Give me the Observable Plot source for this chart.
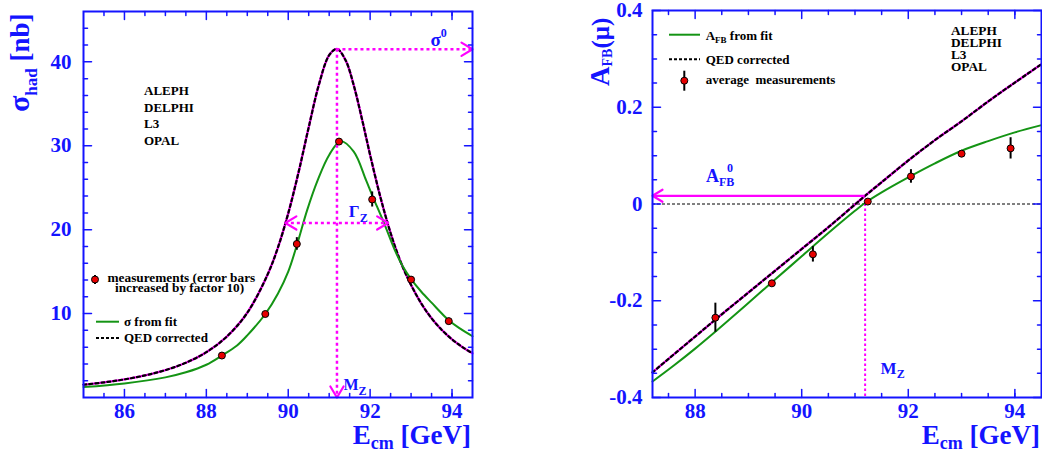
<!DOCTYPE html>
<html><head><meta charset="utf-8">
<script src="https://cdn.jsdelivr.net/npm/d3@7"></script>
<script src="https://cdn.jsdelivr.net/npm/@observablehq/plot@0.6"></script>
<style>
html,body{margin:0;padding:0;background:#fff;}
#wrap{position:relative;width:1042px;height:452px;overflow:hidden;background:#fff;}
#left{position:absolute;left:0;top:0;}
#right{position:absolute;left:520px;top:0;}
svg{overflow:visible}
</style></head><body><div id="wrap"><div id="left"></div><div id="right"></div></div>
<script>
// ---------- data ----------
const scanEnergy = [88.38, 89.44, 90.21, 91.24, 92.05, 93.00, 93.92];
const sigmaMeas = [5.0, 9.95, 18.3, 30.5, 23.6, 14.05, 9.1];
const sigmaErr10 = [0.3, 0.3, 0.75, 0.3, 0.9, 0.3, 0.35];
const afbMeas = [-0.235, -0.164, -0.104, 0.005, 0.057, 0.104, 0.115];
const afbErr = [0.030, 0.006, 0.016, 0.004, 0.014, 0.006, 0.022];

const sigmaFitE = [85, 86, 87, 87.5, 88, 88.38, 88.75, 89, 89.44, 89.75, 90, 90.22, 90.46, 90.72, 91, 91.28, 91.6, 91.9, 92.05, 92.33, 92.6, 92.8, 93, 93.25, 93.5, 93.92, 94.2, 94.5];
const sigmaFit = [1.25, 1.68, 2.4, 3.0, 3.9, 5.0, 6.2, 7.4, 9.95, 12.4, 15.0, 18.3, 22.3, 25.9, 28.9, 30.55, 29.3, 25.9, 24.1, 20.9, 17.6, 15.6, 14.1, 12.6, 11.3, 9.2, 8.2, 7.3];
const sigmaQedE = [85, 85.5, 86, 86.5, 87, 87.5, 88, 88.5, 89, 89.5, 89.75, 90, 90.25, 90.5, 90.75, 91, 91.19, 91.4, 91.6, 91.8, 92, 92.25, 92.5, 92.75, 93, 93.25, 93.5, 93.75, 94, 94.25, 94.5];
const sigmaQed = [1.52, 1.80, 2.16, 2.63, 3.26, 4.14, 5.40, 7.26, 10.1, 14.7, 17.9, 21.95, 26.8, 32.2, 37.3, 40.8, 41.54, 40.2, 37.2, 33.2, 28.9, 23.9, 19.6, 16.1, 13.4, 11.2, 9.44, 8.05, 6.93, 6.02, 5.27];

const afbFitE = [87.2, 87.6, 88, 88.4, 88.8, 89.2, 89.44, 90, 90.5, 91, 91.2, 91.5, 92, 92.5, 93, 93.5, 94, 94.5];
const afbFit = [-0.367, -0.334, -0.299, -0.262, -0.224, -0.185, -0.162, -0.108, -0.060, -0.014, 0.003, 0.024, 0.055, 0.084, 0.110, 0.130, 0.148, 0.163];
const afbQedE = [87.2, 88, 88.5, 89, 89.5, 90, 90.5, 91, 91.19, 91.5, 92, 92.5, 93, 93.5, 94, 94.5];
const afbQed = [-0.348, -0.274, -0.228, -0.183, -0.138, -0.093, -0.048, -0.001, 0.017, 0.045, 0.090, 0.132, 0.171, 0.212, 0.251, 0.289];

const MZ = 91.19, sigma0 = 41.5, gammaLo = 89.93, gammaHi = 92.44, gammaLevel = 20.8, AFB0 = 0.017;

const sigmaTicks = [10, 20, 30, 40];
const sigmaMinor = [2, 4, 6, 8, 12, 14, 16, 18, 22, 24, 26, 28, 32, 34, 36, 38, 42, 44];
const energyTicksL = [86, 88, 90, 92, 94];
const energyMinorL = [85.5, 86.5, 87, 87.5, 88.5, 89, 89.5, 90.5, 91, 91.5, 92.5, 93, 93.5, 94];
const afbTicks = [-0.4, -0.2, 0, 0.2, 0.4];
const afbMinor = [-0.35, -0.3, -0.25, -0.15, -0.1, -0.05, 0.05, 0.1, 0.15, 0.25, 0.3, 0.35];
const energyTicksR = [88, 90, 92, 94];
const energyMinorR = [87.5, 88.5, 89, 89.5, 90.5, 91, 91.5, 92.5, 93, 93.5, 94];
const experiments = ["ALEPH", "DELPHI", "L3", "OPAL"];

// ---------- styles ----------
const SERIF = "'Liberation Serif', 'Times New Roman', serif";
const BLUE = "#1414ff", MAGENTA = "#ff00ff", GREEN = "#149414", RED = "#e60000";

const zip = (xs, ys) => xs.map((E, i) => ({E, v: ys[i]}));
const measL = scanEnergy.map((E, i) => ({E, v: sigmaMeas[i], e: sigmaErr10[i]}));
const measR = scanEnergy.map((E, i) => ({E, v: afbMeas[i], e: afbErr[i]}));

const tickShape = {draw(ctx, l) { ctx.moveTo(0, 0); ctx.lineTo(0, -l); }};
const chevron = {draw(ctx, l) { const w = l * 0.6; ctx.moveTo(-w, l); ctx.lineTo(0, 0); ctx.lineTo(w, l); }};

function frameTicks(values, dim, len) {
  const common = {length: len, anchor: "start", shape: tickShape, stroke: BLUE, strokeWidth: 1.5};
  if (dim === "x") return [
    Plot.vector(values, {x: d => d, frameAnchor: "bottom", rotate: 0, ...common}),
    Plot.vector(values, {x: d => d, frameAnchor: "top", rotate: 180, ...common})
  ];
  return [
    Plot.vector(values, {y: d => d, frameAnchor: "left", rotate: 90, ...common}),
    Plot.vector(values, {y: d => d, frameAnchor: "right", rotate: -90, ...common})
  ];
}
const axisFont = {fontSize: 21, fontWeight: "bold", fontFamily: SERIF, fill: BLUE, label: null, tickSize: 0};

// ---------- left panel ----------
const headsL = [{x: MZ, y: 0, r: 180}, {x: 94.5, y: sigma0, r: 90}, {x: gammaLo, y: gammaLevel, r: -90}, {x: gammaHi, y: gammaLevel, r: 90}];
const leftPlot = Plot.plot({
  width: 520, height: 452, marginLeft: 83, marginRight: 48, marginTop: 11, marginBottom: 55,
  x: {domain: [85, 94.5]}, y: {domain: [0, 46]},
  style: {fontFamily: SERIF, color: BLUE, background: "white", overflow: "visible"},
  marks: [
    Plot.line(zip(sigmaQedE, sigmaQed), {x: "E", y: "v", curve: "catmull-rom", stroke: MAGENTA, strokeWidth: 2.4}),
    Plot.line(zip(sigmaQedE, sigmaQed), {x: "E", y: "v", curve: "catmull-rom", stroke: "black", strokeWidth: 2.2, strokeDasharray: "3,3"}),
    Plot.line(zip(sigmaFitE, sigmaFit), {x: "E", y: "v", curve: "catmull-rom", stroke: GREEN, strokeWidth: 2}),
    Plot.ruleX([MZ], {y1: sigma0, y2: 0, stroke: MAGENTA, strokeWidth: 2.5, strokeDasharray: "3,3"}),
    Plot.ruleY([sigma0], {x1: MZ, x2: 94.5, stroke: MAGENTA, strokeWidth: 2.5, strokeDasharray: "3,3"}),
    Plot.ruleY([gammaLevel], {x1: gammaLo, x2: gammaHi, stroke: MAGENTA, strokeWidth: 2.5, strokeDasharray: "3,3"}),
    Plot.vector(headsL, {x: "x", y: "y", rotate: "r", length: 11, anchor: "start", shape: chevron, stroke: MAGENTA, strokeWidth: 2.2}),
    Plot.ruleX(measL, {x: "E", y1: d => d.v - d.e, y2: d => d.v + d.e, stroke: "black", strokeWidth: 2}),
    Plot.dot(measL, {x: "E", y: "v", r: 3.5, fill: RED, stroke: "black", strokeWidth: 1}),
    ...frameTicks(sigmaTicks, "y", 8), ...frameTicks(sigmaMinor, "y", 4),
    ...frameTicks(energyTicksL, "x", 8), ...frameTicks(energyMinorL, "x", 4),
    Plot.axisX({ticks: energyTicksL, tickPadding: 6, tickFormat: d => String(d), ...axisFont}),
    Plot.axisY({ticks: sigmaTicks, tickPadding: 12, tickFormat: d => String(d), ...axisFont}),
    Plot.frame({stroke: BLUE, strokeWidth: 2})
  ]
});
document.getElementById("left").append(leftPlot);

// ---------- right panel ----------
const headsR = [{x: 87.2, y: AFB0, r: -90}];
const rightPlot = Plot.plot({
  width: 522, height: 452, marginLeft: 132, marginRight: 1, marginTop: 10, marginBottom: 55,
  x: {domain: [87.2, 94.5]}, y: {domain: [-0.4, 0.4]},
  style: {fontFamily: SERIF, color: BLUE, background: "white", overflow: "visible"},
  marks: [
    Plot.ruleY([0], {stroke: "black", strokeWidth: 1, strokeDasharray: "3,2"}),
    Plot.ruleX([MZ], {y1: 0, y2: -0.4, stroke: MAGENTA, strokeWidth: 2, strokeDasharray: "2.5,2.5"}),
    Plot.line(zip(afbQedE, afbQed), {x: "E", y: "v", curve: "catmull-rom", stroke: MAGENTA, strokeWidth: 2.4}),
    Plot.line(zip(afbQedE, afbQed), {x: "E", y: "v", curve: "catmull-rom", stroke: "black", strokeWidth: 2.2, strokeDasharray: "3,3"}),
    Plot.line(zip(afbFitE, afbFit), {x: "E", y: "v", curve: "catmull-rom", stroke: GREEN, strokeWidth: 2}),
    Plot.ruleY([AFB0], {x1: MZ, x2: 87.2, stroke: MAGENTA, strokeWidth: 2.2}),
    Plot.vector(headsR, {x: "x", y: "y", rotate: "r", length: 10, anchor: "start", shape: chevron, stroke: MAGENTA, strokeWidth: 2.2}),
    Plot.ruleX(measR, {x: "E", y1: d => d.v - d.e, y2: d => d.v + d.e, stroke: "black", strokeWidth: 2}),
    Plot.dot(measR, {x: "E", y: "v", r: 3.5, fill: RED, stroke: "black", strokeWidth: 1}),
    ...frameTicks(afbTicks, "y", 8), ...frameTicks(afbMinor, "y", 4),
    ...frameTicks(energyTicksR, "x", 8), ...frameTicks(energyMinorR, "x", 4),
    Plot.axisX({ticks: energyTicksR, tickPadding: 6, tickFormat: d => String(d), ...axisFont}),
    Plot.axisY({ticks: afbTicks, tickPadding: 10, tickFormat: d => String(d), ...axisFont}),
    Plot.frame({stroke: BLUE, strokeWidth: 2})
  ]
});
document.getElementById("right").append(rightPlot);

// ---------- annotations ----------
function txt(svg, x, y, parts, o = {}) {
  const t = d3.select(svg).append("text")
    .attr("x", x).attr("y", y)
    .attr("font-family", SERIF).attr("font-weight", "bold")
    .attr("font-size", o.size || 13).attr("fill", o.fill || "black")
    .attr("text-anchor", o.anchor || "start")
    .style("white-space", "pre");
  if (o.rotate) t.attr("transform", `rotate(${o.rotate},${x},${y})`);
  for (const p of parts) {
    const s = t.append("tspan").text(p.t);
    if (p.dy) s.attr("dy", p.dy);
    if (p.size) s.attr("font-size", p.size);
  }
  return t;
}
function seg(svg, x1, y1, x2, y2, stroke, w, dash) {
  const l = d3.select(svg).append("line").attr("x1", x1).attr("y1", y1).attr("x2", x2).attr("y2", y2)
    .attr("stroke", stroke).attr("stroke-width", w);
  if (dash) l.attr("stroke-dasharray", dash);
}
function marker(svg, x, y, e) {
  seg(svg, x, y - e, x, y + e, "black", 2);
  d3.select(svg).append("circle").attr("cx", x).attr("cy", y).attr("r", 3.5).attr("fill", RED).attr("stroke", "black");
}

{
  const svg = leftPlot;
  const xs = v => leftPlot.scale("x").apply(v), ys = v => leftPlot.scale("y").apply(v);
  txt(svg, 29, 112, [{t: "σ", size: 30}, {t: "had", size: 17, dy: 8}, {t: " [nb]", dy: -8}], {size: 27, fill: BLUE, rotate: -90});
  txt(svg, 471, 444, [{t: "E"}, {t: "cm", size: 18, dy: 5}, {t: " [GeV]", dy: -5}], {size: 27, fill: BLUE, anchor: "end"});
  experiments.forEach((n, i) => txt(svg, 144, 95 + i * 16.7, [{t: n}]));
  marker(svg, 95, 279.5, 4.5);
  txt(svg, 107.5, 281.5, [{t: "measurements (error bars"}], {size: 13.3});
  txt(svg, 115, 292, [{t: "increased by factor 10)"}], {size: 13.3});
  seg(svg, 96, 321.7, 119, 321.7, GREEN, 2);
  txt(svg, 124, 325.5, [{t: "σ from fit"}]);
  seg(svg, 96, 338, 119, 338, "black", 2, "3,2");
  txt(svg, 124, 342, [{t: "QED corrected"}]);
  txt(svg, xs(MZ) + 94, ys(sigma0) - 3, [{t: "σ", size: 19}, {t: "0", size: 12, dy: -9}], {fill: BLUE});
  txt(svg, xs(gammaLo) + 64, ys(gammaLevel) - 5, [{t: "Γ", size: 17}, {t: "Z", size: 12, dy: 5}], {fill: BLUE});
  txt(svg, xs(MZ) + 7, 390, [{t: "M", size: 16}, {t: "Z", size: 12, dy: 5}], {fill: BLUE});
}
{
  const svg = rightPlot;
  const xs = v => rightPlot.scale("x").apply(v), ys = v => rightPlot.scale("y").apply(v);
  txt(svg, 89, 86, [{t: "A", size: 27}, {t: "FB", size: 14, dy: 3}, {t: "(μ)", dy: -3}], {size: 25, fill: BLUE, rotate: -90});
  txt(svg, 520, 444, [{t: "E"}, {t: "cm", size: 18, dy: 5}, {t: " [GeV]", dy: -5}], {size: 27, fill: BLUE, anchor: "end"});
  experiments.forEach((n, i) => txt(svg, 431, 35 + i * 11.9, [{t: n}], {size: 13.3}));
  seg(svg, 149, 34.7, 180, 34.7, GREEN, 2);
  txt(svg, 185.7, 40, [{t: "A"}, {t: "FB", size: 9, dy: 3}, {t: " from fit", dy: -3}]);
  seg(svg, 149, 59.3, 180, 59.3, "black", 2, "3,2");
  txt(svg, 185.7, 64, [{t: "QED corrected"}]);
  marker(svg, 164.3, 80.7, 10);
  txt(svg, 185.7, 84, [{t: "average  measurements"}]);
  txt(svg, 186, ys(AFB0) - 13.5, [{t: "A", size: 18}, {t: "FB", size: 12, dy: 4}], {fill: BLUE});
  txt(svg, 207, ys(AFB0) - 23, [{t: "0", size: 12}], {fill: BLUE});
  txt(svg, xs(MZ) + 16, 374, [{t: "M", size: 17}, {t: "Z", size: 12, dy: 4}], {fill: BLUE});
}
</script>
</body></html>
